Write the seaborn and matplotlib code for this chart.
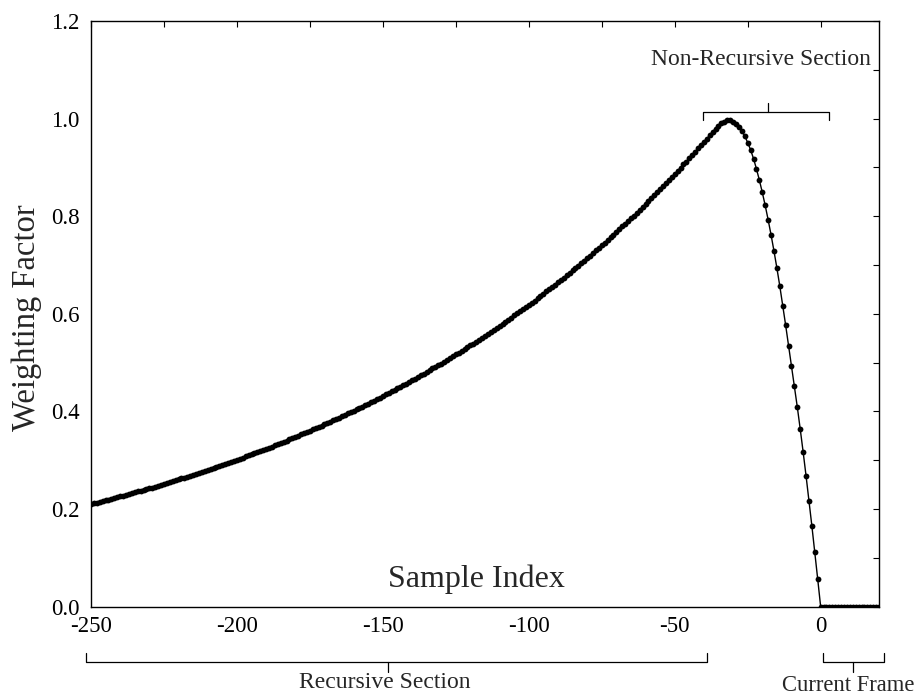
import matplotlib
matplotlib.use("Agg")
import matplotlib.pyplot as plt
import seaborn as sns
import pandas as pd
import numpy as np

# ---------------- data ----------------
# Recursive section: samples -250 .. -41
recursive_start = -250
recursive_values = [
    .210, .212, .213, .215, .216, .218, .219, .221, .222, .224,
    .226, .227, .229, .231, .232, .234, .236, .237, .239, .241,
    .243, .244, .246, .248, .250, .251, .253, .255, .257, .259,
    .261, .263, .264, .266, .268, .270, .272, .274, .276, .278,
    .280, .282, .284, .286, .288, .290, .292, .295, .297, .299,
    .301, .303, .305, .308, .310, .312, .314, .317, .319, .321,
    .323, .326, .328, .331, .333, .335, .338, .340, .343, .345,
    .348, .350, .353, .355, .358, .360, .363, .366, .368, .371,
    .374, .376, .379, .382, .385, .387, .390, .393, .396, .399,
    .401, .404, .407, .410, .413, .416, .419, .422, .425, .428,
    .431, .435, .438, .441, .444, .447, .451, .454, .457, .460,
    .464, .467, .470, .474, .477, .481, .484, .488, .491, .495,
    .498, .502, .506, .509, .513, .517, .520, .524, .528, .532,
    .536, .539, .543, .547, .551, .555, .559, .563, .567, .571,
    .575, .580, .584, .588, .592, .597, .601, .605, .610, .614,
    .618, .623, .627, .632, .637, .641, .646, .650, .655, .660,
    .665, .669, .674, .679, .684, .689, .694, .699, .704, .709,
    .714, .719, .725, .730, .735, .740, .746, .751, .757, .762,
    .768, .773, .779, .784, .790, .796, .801, .807, .813, .819,
    .825, .831, .837, .843, .849, .855, .861, .868, .874, .880,
    .886, .893, .899, .906, .912, .919, .926, .932, .939, .946,
]
# Non-recursive section: samples -40 .. 0
nonrec_start = -40
nonrec_values = [
    .952, .959, .966, .973, .979, .985, .990, .994, .997, .997,
    .994, .989, .983, .975, .964, .951, .936, .918, .897, .874,
    .849, .822, .793, .762, .729, .694, .657, .617, .577, .535,
    .494, .452, .409, .364, .317, .268, .217, .165, .111, .056,
    0.0,
]
# Current frame: samples 1 .. 20
frame_start = 1
frame_values = [0.0] * 20

x_ticks = [-250, -200, -150, -100, -50, 0]
x_tick_labels = ["-250", "-200", "-150", "-100", "-50", "0"]
y_ticks = [0.0, 0.2, 0.4, 0.6, 0.8, 1.0, 1.2]
y_tick_labels = ["0.0", "0.2", "0.4", "0.6", "0.8", "1.0", "1.2"]

# ---------------- build table ----------------
idx = (list(range(recursive_start, recursive_start + len(recursive_values)))
       + list(range(nonrec_start, nonrec_start + len(nonrec_values)))
       + list(range(frame_start, frame_start + len(frame_values))))
vals = recursive_values + nonrec_values + frame_values
df = pd.DataFrame({"Sample Index": idx, "Weighting Factor": vals})

# ---------------- style ----------------
sns.set_style("white")
plt.rcParams["font.family"] = ["Liberation Serif", "DejaVu Serif"]
plt.rcParams["axes.unicode_minus"] = False

fig = plt.figure(figsize=(9.19, 6.97), dpi=100)
ax = fig.add_axes([0.0990, 0.1296, 0.8575, 0.8403])

sns.lineplot(data=df, x="Sample Index", y="Weighting Factor", ax=ax,
             color="black", linewidth=1.0, marker="o", markersize=4.2,
             markeredgewidth=0, sort=False)

ax.set_xlim(-250, 20)
ax.set_ylim(0, 1.2)
ax.set_xlabel("")
ax.set_ylabel("")

ax.set_xticks(x_ticks)
ax.set_xticklabels(x_tick_labels)
ax.set_xticks(np.arange(-225, 20, 50), minor=True)
ax.set_yticks(y_ticks)
ax.set_yticklabels(y_tick_labels)
ax.set_yticks(np.arange(0.1, 1.2, 0.2), minor=True)

for s in ax.spines.values():
    s.set_visible(True)
    s.set_color("black")
    s.set_linewidth(1.0)

ax.tick_params(which="both", direction="in", top=True, right=True,
               length=4, width=0.8, colors="black")
ax.tick_params(axis="x", which="major", labelsize=16.5, pad=6.5)
ax.tick_params(axis="y", which="major", labelsize=16.5, pad=8)

# axis titles
fig.text(27 / 919, 1 - 318 / 697, "Weighting Factor", rotation=90,
         ha="center", va="center", fontsize=23.5)
ax.text(-148.1, 0.040, "Sample Index", ha="left", va="baseline", fontsize=23)

# Non-recursive bracket
bk = dict(color="black", linewidth=0.9, clip_on=False)
ax.plot([-40.4, -40.4, 2.8, 2.8], [0.997, 1.014, 1.014, 0.997], **bk)
ax.plot([-18.1, -18.1], [1.014, 1.031], **bk)
ax.text(-20.5, 1.109, "Non-Recursive Section", ha="center", va="baseline",
        fontsize=17)

# Recursive bracket (below axis)
ax.plot([-251.7, -251.7, -39.0, -39.0], [-0.094, -0.113, -0.113, -0.094], **bk)
ax.plot([-148.1, -148.1], [-0.113, -0.134], **bk)
ax.text(-149.5, -0.1666, "Recursive Section", ha="center", va="baseline",
        fontsize=17)

# Current frame bracket
ax.plot([0.8, 0.8, 21.7, 21.7], [-0.094, -0.113, -0.113, -0.094], **bk)
ax.plot([11.1, 11.1], [-0.113, -0.134], **bk)
ax.text(9.3, -0.173, "Current Frame", ha="center", va="baseline",
        fontsize=16.3)

fig.savefig("out.png", dpi=100)
